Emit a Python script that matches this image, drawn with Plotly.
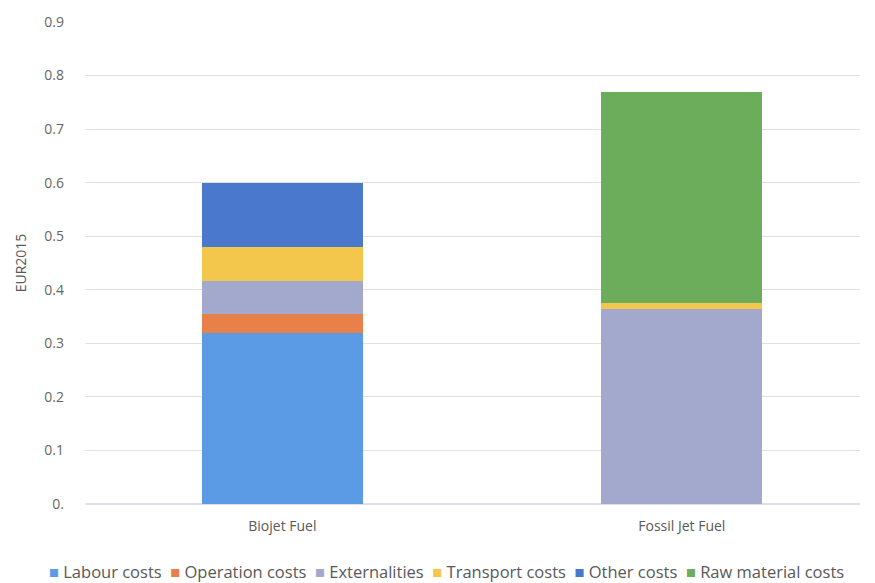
import plotly.graph_objects as go

categories = ["Biojet Fuel", "Fossil Jet Fuel"]
series_names = ["Labour costs", "Operation costs", "Externalities", "Transport costs", "Other costs", "Raw material costs"]
labour = [0.319, 0.0]
operation = [0.036, 0.0]
externalities = [0.061, 0.364]
transport = [0.064, 0.011]
other = [0.120, 0.0]
raw_material = [0.0, 0.394]
colors = ["#5B9BE6", "#E8804A", "#A3A9CC", "#F3C64C", "#4A78CC", "#6CAD5C"]
tick_vals = [0, 0.1, 0.2, 0.3, 0.4, 0.5, 0.6, 0.7, 0.8, 0.9]
tick_text = ["0.", "0.1", "0.2", "0.3", "0.4", "0.5", "0.6", "0.7", "0.8", "0.9"]

values = [labour, operation, externalities, transport, other, raw_material]

fig = go.Figure()
for name, vals, col in zip(series_names, values, colors):
    fig.add_trace(go.Bar(x=categories, y=vals, name=name, marker=dict(color=col, line=dict(width=0)),
                         width=0.403, showlegend=False))

# Legend drawn as a single line of text with coloured square glyphs
legend_text = "&nbsp;&nbsp;".join(
    f"<span style='color:{c}'>■</span>&nbsp;{n}" for n, c in zip(series_names, colors)
)
fig.add_annotation(text=legend_text, xref="paper", yref="paper", x=0.467, y=-0.141,
                   xanchor="center", yanchor="middle", showarrow=False,
                   font=dict(size=16.5, color="#595959"))

fig.update_layout(
    barmode="stack",
    width=875, height=583,
    margin=dict(l=85, r=15, t=22, b=79, autoexpand=False),
    plot_bgcolor="white", paper_bgcolor="white",
    font=dict(family="Open Sans, Liberation Sans, sans-serif", color="#595959", size=13),
    showlegend=False,
    xaxis=dict(range=[-0.494, 1.446], showgrid=False, showline=False, ticks="",
               tickfont=dict(size=14, color="#595959"), ticklabelstandoff=12),
    yaxis=dict(range=[0, 0.9], tickvals=tick_vals, ticktext=tick_text, showgrid=True,
               gridcolor="#E0E0E8", gridwidth=1, zeroline=True, zerolinecolor="#E0E0E8",
               showline=False, ticks="", ticklabelstandoff=20,
               title=dict(text="EUR2015", font=dict(size=14, color="#595959"), standoff=14),
               tickfont=dict(size=14, color="#666666")),
)

fig.write_html("out.html")
